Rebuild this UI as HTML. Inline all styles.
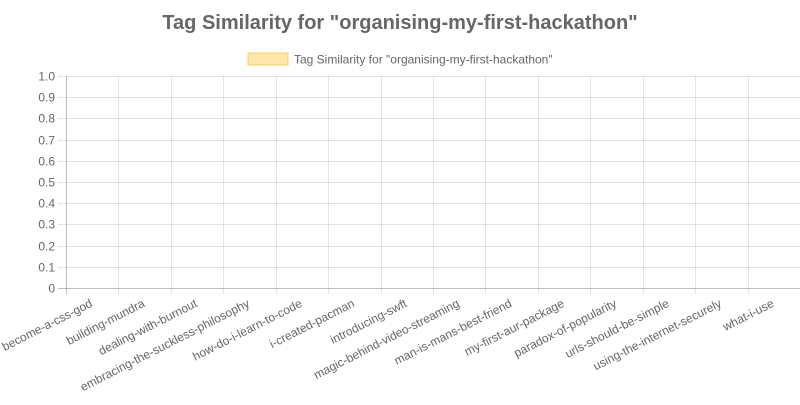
<!DOCTYPE html>
<html><head><meta charset="utf-8"><style>
body{margin:0;background:#fff;width:800px;height:400px;overflow:hidden;font-family:"Liberation Sans",Arial,sans-serif}
svg text{font-family:"Liberation Sans",Arial,sans-serif;fill:#666}
</style></head><body>
<svg id="chart" width="800" height="400">
<text x="400" y="29" text-anchor="middle" font-size="20" font-weight="bold">Tag Similarity for "organising-my-first-hackathon"</text>
<g>
<rect x="248" y="53" width="40" height="12" fill="rgba(255,205,86,0.5)" stroke="#ffcd56" stroke-width="1"></rect>
<text x="294" y="63.5" font-size="12">Tag Similarity for "organising-my-first-hackathon"</text>
</g>
<g id="grid"></g><g id="bars"></g><g id="labels"></g>
</svg>
<script>
const categories=["become-a-css-god","building-mundra","dealing-with-burnout","embracing-the-suckless-philosophy","how-do-i-learn-to-code","i-created-pacman","introducing-swft","magic-behind-video-streaming","man-is-mans-best-friend","my-first-aur-package","paradox-of-popularity","urls-should-be-simple","using-the-internet-securely","what-i-use"];
const values=[0,0,0,0,0,0,0,0,0,0,0,0,0,0];
const yTicks=["0","0.1","0.2","0.3","0.4","0.5","0.6","0.7","0.8","0.9","1.0"];
const L=66,R=800,T=76,B=288,NS="http://www.w3.org/2000/svg";
const y=v=>B-(v/1)*(B-T);
const bw=(R-L)/categories.length;
const x=i=>L+bw*i;
function mk(t,a,p){const e=document.createElementNS(NS,t);for(const k in a)e.setAttribute(k,a[k]);p.appendChild(e);return e;}
const g=document.getElementById('grid'),lb=document.getElementById('labels'),bs=document.getElementById('bars');
yTicks.forEach((t,i)=>{const v=parseFloat(t),yy=Math.round(y(v))+0.5;
const ln=mk('line',{x1:58,x2:R,y1:yy,y2:yy,stroke:i==0?'rgba(0,0,0,0.25)':'rgba(0,0,0,0.1)'},g);


const tx=mk('text',{x:55,y:yy+4,'text-anchor':'end','font-size':12},lb);tx.textContent=t;

});
for(let i=0;i<=categories.length;i++){const xx=Math.round(x(i))+0.5;
const ln=mk('line',{x1:xx,x2:xx,y1:T,y2:B+6,stroke:i==0?'rgba(0,0,0,0.25)':'rgba(0,0,0,0.1)'},g);

}
categories.forEach((c,i)=>{const cx=x(i)+bw/2;
const h=B-y(values[i]);
const r=mk('rect',{x:x(i)+bw*0.1,y:y(values[i]),width:bw*0.8,height:h,fill:'rgba(255,205,86,0.5)',stroke:'#ffcd56'},bs);


const ax=cx+1,ay=B+18;
const tx=mk('text',{x:ax,y:ay,'text-anchor':'end','font-size':12,transform:`rotate(-27 ${ax} ${ay})`},lb);tx.textContent=c;

});
</script>
</body></html>
